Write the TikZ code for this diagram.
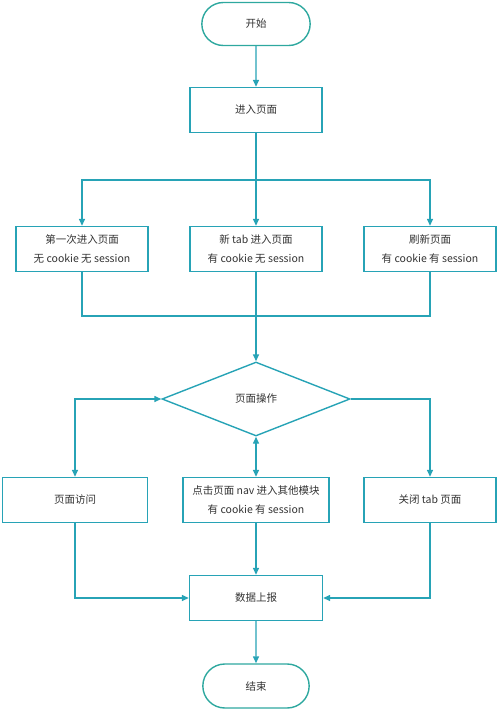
\documentclass[tikz,border=0pt]{standalone}
\usepackage{fontspec}
\setmainfont{Noto Sans CJK SC}
\usetikzlibrary{shapes.geometric,shapes.misc,arrows.meta}
\definecolor{termcol}{HTML}{2EA89F}
\definecolor{linecol}{HTML}{27A3B6}
\definecolor{txtcol}{HTML}{333333}
\begin{document}
\begin{tikzpicture}[x=1pt,y=-1pt,
  font=\fontsize{10.5}{19}\selectfont, text=txtcol,
  term/.style={rounded rectangle, draw=termcol, line width=1.4pt, minimum width=115pt, minimum height=43pt},
  box/.style={rectangle, draw=linecol, line width=1.4pt, minimum width=132pt, minimum height=45pt, align=center},
  dia/.style={diamond, draw=linecol, line width=1.4pt, minimum width=188pt, minimum height=74pt, inner sep=0pt},
  arr/.style={draw=linecol, line width=1.4pt, -{Triangle[length=7pt,width=6pt]}},
  arrr/.style={draw=linecol, line width=1.4pt, {Triangle[length=7pt,width=6pt]}-{Triangle[length=7pt,width=6pt]}},
  ln/.style={draw=linecol, line width=1.4pt}]
\useasboundingbox (0,0) rectangle (500,712);
\node[term] (st) at (256,24){开始};
\node[box] (ent) at (256,110){进入页面};
\draw[arr](st) -- (ent);
\coordinate (j1) at (256,180);
\node[box] (b1) at (82,249){第一次进入页面\\无 cookie 无 session};
\node[box] (b2) at (256,249){新 tab 进入页面\\有 cookie 无 session};
\node[box] (b3) at (430,249){刷新页面\\有 cookie 有 session};
\draw[arr](ent) -- (b2);
\draw[arr](j1) -| (b1);
\draw[arr](j1) -| (b3);
\coordinate (j2) at (256,316);
\node[dia] (dec) at (256,399){页面操作};
\draw[ln](b1) |- (j2);
\draw[ln](b3) |- (j2);
\draw[arr](b2) -- (dec);
\node[box, minimum width=145pt] (b4) at (75,500){页面访问};
\node[box, minimum width=146pt] (b5) at (256,500){点击页面 nav 进入其他模块\\有 cookie 有 session};
\node[box] (b6) at (430,500){关闭 tab 页面};
\draw[arrr](dec.west) -| (b4);
\draw[arrr](dec) -- (b5);
\draw[arr](dec.east) -| (b6);
\node[box, minimum width=133pt] (rep) at (256,598){数据上报};
\draw[arr](b4) |- (rep);
\draw[arr](b5) -- (rep);
\draw[arr](b6) |- (rep);
\node[term, minimum width=113pt, minimum height=44pt] (end) at (256,686){结束};
\draw[arr](rep) -- (end);
\end{tikzpicture}
\end{document}
